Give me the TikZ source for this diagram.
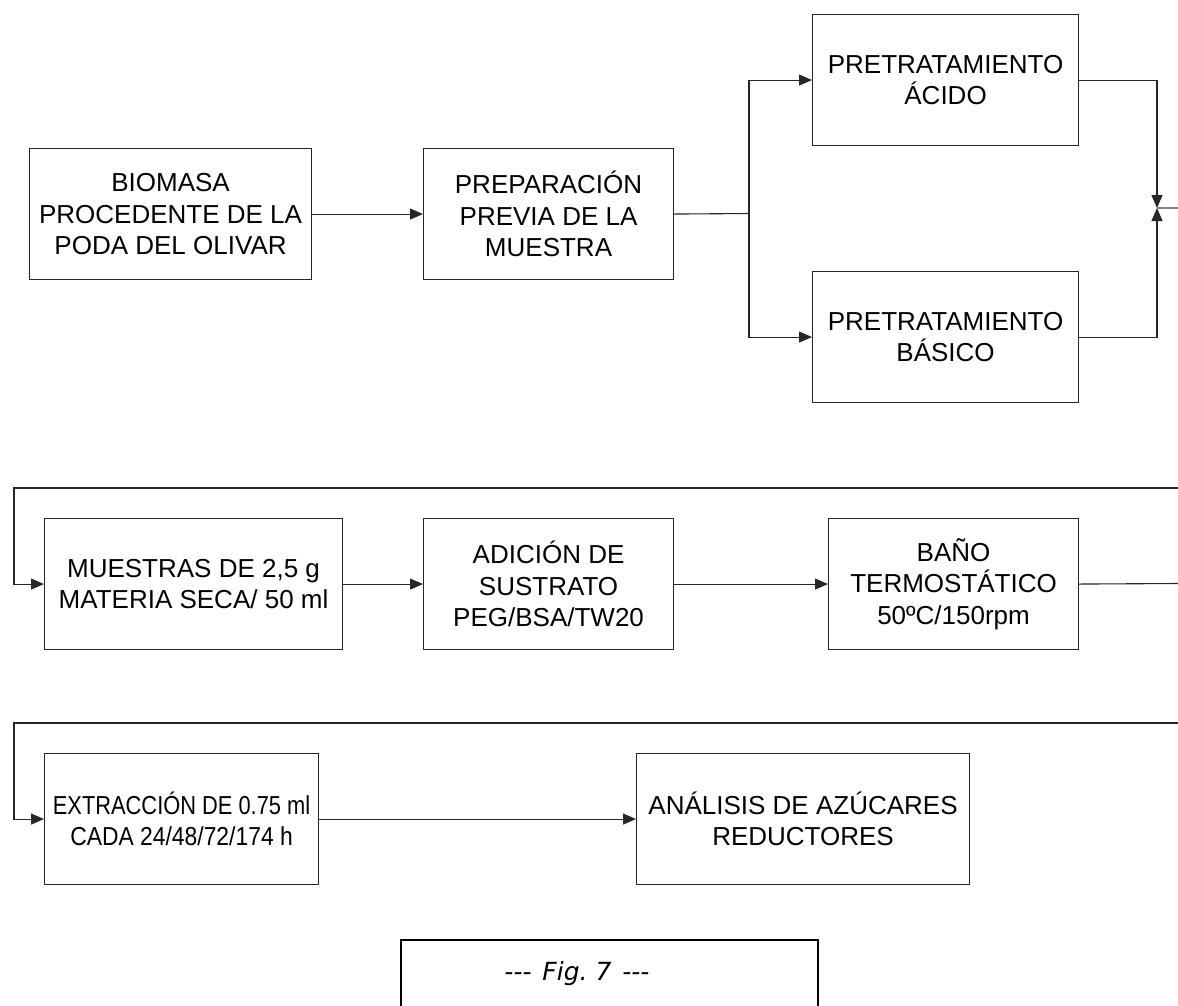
\documentclass[tikz,border=0pt]{standalone}
\usepackage{fontspec}
\setmainfont{Liberation Sans}
\newfontfamily\figfont{DejaVu Sans}
\usetikzlibrary{arrows.meta}
\begin{document}
\begin{tikzpicture}[x=1pt,y=-1pt,
  box/.style={draw=black!85, line width=1.1pt, rectangle, inner sep=0pt, anchor=north west,
    align=center, font=\fontsize{26}{31.5}\selectfont},
  conn/.style={draw=black!85, line width=1.1pt},
  arr/.style={conn, -{Triangle[length=13pt,width=11pt]}}]
\useasboundingbox (0,0) rectangle (1178,1005);
% row 1
\node[box, minimum width=282pt, minimum height=131pt] (bio) at (29,148) {BIOMASA\\PROCEDENTE DE LA\\PODA DEL OLIVAR};
\node[box, minimum width=250pt, minimum height=131pt] (prep) at (423,148) {PREPARACIÓN\\PREVIA DE LA\\MUESTRA};
\node[box, minimum width=266pt, minimum height=131pt] (acid) at (812,14) {PRETRATAMIENTO\\ÁCIDO};
\node[box, minimum width=266pt, minimum height=131pt] (bas) at (812,271) {PRETRATAMIENTO\\BÁSICO};
% row 2
\node[box, minimum width=298pt, minimum height=131pt] (mue) at (44,518) {MUESTRAS DE 2,5 g\\MATERIA SECA/ 50 ml};
\node[box, minimum width=250pt, minimum height=131pt] (adi) at (423,518) {ADICIÓN DE\\SUSTRATO\\PEG/BSA/TW20};
\node[box, minimum width=250pt, minimum height=131pt] (bano) at (828,518) {BAÑO\\TERMOSTÁTICO\\50ºC/150rpm};
% row 3
\node[box, minimum width=274pt, minimum height=131pt] (ext) at (44,753) {\scalebox{0.84}[1]{EXTRACCIÓN DE 0.75 ml}\\\scalebox{0.88}[1]{CADA 24/48/72/174 h}};
\node[box, minimum width=333pt, minimum height=131pt] (ana) at (636,753) {ANÁLISIS DE AZÚCARES\\REDUCTORES};
% coordinates
\coordinate (split) at (749,213.5);
\coordinate (jn) at (1157,208);
\coordinate (jr) at (1178,208);
\coordinate (r2a) at (1178,488);
\coordinate (l2) at (14,488);
\coordinate (r2b) at (1178,583.5);
\coordinate (r3a) at (1178,723);
\coordinate (l3) at (14,723);
% connectors
\draw[arr] (bio.east) -- (prep.west);
\draw[conn] (prep.east) -- (split);
\draw[arr] (split) |- (acid.west);
\draw[arr] (split) |- (bas.west);
\draw[arr] (acid.east) -| (jn);
\draw[arr] (bas.east) -| (jn);
\draw[draw=black!50, line width=1.1pt] (jn) -- (jr);
\draw[arr] (r2a) -- (l2) |- (mue.west);
\draw[arr] (mue.east) -- (adi.west);
\draw[arr] (adi.east) -- (bano.west);
\draw[conn] (bano.east) -- (r2b);
\draw[arr] (r3a) -- (l3) |- (ext.west);
\draw[arr] (ext.east) -- (ana.west);
% figure caption box
\coordinate (fbl) at (401,1010);
\coordinate (fbr) at (818,1010);
\draw[black, line width=2pt] (fbl) -- (401,940) -- (818,940) -- (fbr);
\node[font=\figfont\itshape\fontsize{25}{29}\selectfont, inner sep=0pt] (figlbl) at (577,974) {-{}-{}-\hspace{3pt} Fig.\ 7 \hspace{3pt}-{}-{}-};
\end{tikzpicture}
\end{document}
